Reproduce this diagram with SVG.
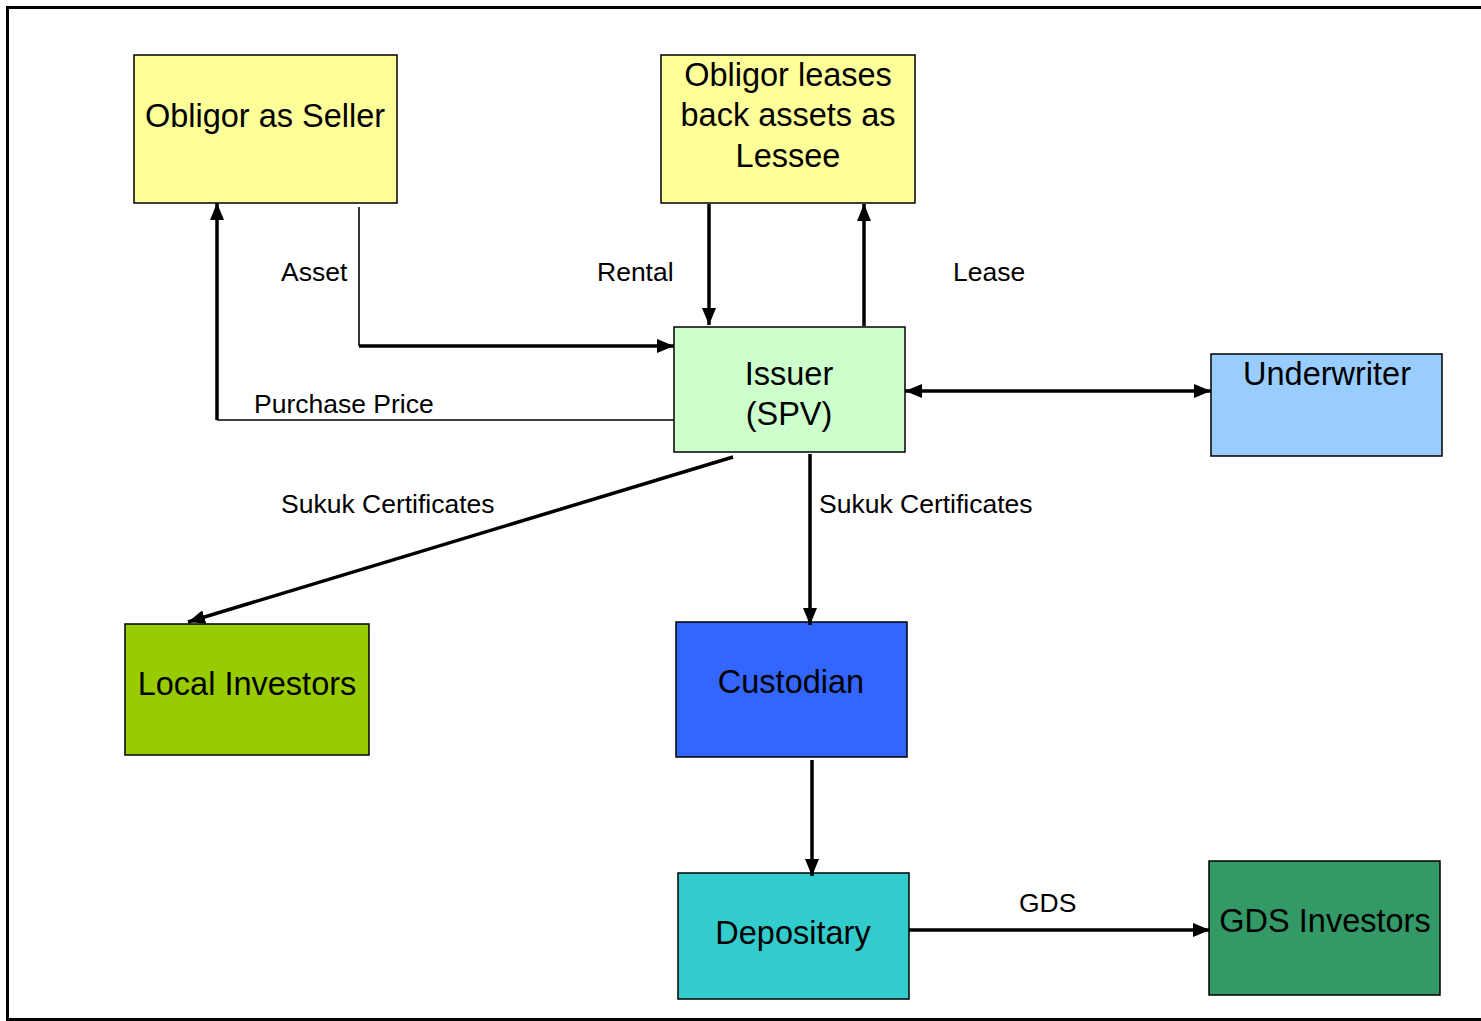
<svg xmlns="http://www.w3.org/2000/svg" width="1481" height="1021" viewBox="0 0 1481 1021">
<style>
.node rect{stroke:#000;stroke-width:1.5}
.nt{font-family:"Liberation Sans",Arial,sans-serif;font-size:32.5px;fill:#000;text-anchor:middle}
.lb{font-family:"Liberation Sans",Arial,sans-serif;font-size:26.5px;fill:#000}
.thick{stroke:#000;stroke-width:3.5;fill:none}
.thin{stroke:#000;stroke-width:1.6;fill:none}
</style>
<defs>
<marker id="ah" viewBox="0 0 17 14" refX="17" refY="7" markerWidth="17" markerHeight="14" markerUnits="userSpaceOnUse" orient="auto-start-reverse">
<path d="M0,0 L17,7 L0,14 Z" fill="#000"/>
</marker>
</defs>
<rect x="0" y="0" width="1481" height="1021" fill="#fff"/>
<rect x="7.5" y="7.5" width="1490" height="1012" fill="none" stroke="#000" stroke-width="3"/>

<g id="obligor-seller" class="node">
<rect x="134" y="55" width="263" height="148" fill="#FFFF99"/>
<text class="nt" x="265" y="127">Obligor as Seller</text>
</g>
<g id="obligor-lessee" class="node">
<rect x="661" y="55" width="254" height="148" fill="#FFFF99"/>
<text class="nt" x="788" y="86">Obligor leases</text>
<text class="nt" x="788" y="126">back assets as</text>
<text class="nt" x="788" y="167">Lessee</text>
</g>
<g id="issuer" class="node">
<rect x="674" y="327" width="231" height="125" fill="#CCFFCC"/>
<text class="nt" x="789" y="385">Issuer</text>
<text class="nt" x="789" y="425">(SPV)</text>
</g>
<g id="underwriter" class="node">
<rect x="1211" y="354" width="231" height="102" fill="#99CCFF"/>
<text class="nt" x="1327" y="385">Underwriter</text>
</g>
<g id="local-investors" class="node">
<rect x="125" y="624" width="244" height="131" fill="#99CC00"/>
<text class="nt" x="247" y="695">Local Investors</text>
</g>
<g id="custodian" class="node">
<rect x="676" y="622" width="231" height="135" fill="#3366FF"/>
<text class="nt" x="791" y="693">Custodian</text>
</g>
<g id="depositary" class="node">
<rect x="678" y="873" width="231" height="126" fill="#33CCCC"/>
<text class="nt" x="793" y="944">Depositary</text>
</g>
<g id="gds-investors" class="node">
<rect x="1209" y="861" width="231" height="134" fill="#339966"/>
<text class="nt" x="1325" y="932">GDS Investors</text>
</g>

<g id="connectors">
<path class="thin" d="M359,207 L359,346"/>
<path class="thick" d="M359,346 L674,346" marker-end="url(#ah)"/>
<path class="thin" d="M674,420 L217,420"/>
<path class="thick" d="M217,420 L217,203" marker-end="url(#ah)"/>
<path class="thick" d="M709,204 L709,325" marker-end="url(#ah)"/>
<path class="thick" d="M864,326 L864,204" marker-end="url(#ah)"/>
<path class="thick" d="M905,391 L1211,391" marker-start="url(#ah)" marker-end="url(#ah)"/>
<path class="thick" d="M733,457 L188,622" marker-end="url(#ah)"/>
<path class="thick" d="M810,454 L810,625" marker-end="url(#ah)"/>
<path class="thick" d="M812,760 L812,876" marker-end="url(#ah)"/>
<path class="thick" d="M909,930 L1210,930" marker-end="url(#ah)"/>
<text class="lb" x="281" y="281">Asset</text>
<text class="lb" x="597" y="281">Rental</text>
<text class="lb" x="953" y="281">Lease</text>
<text class="lb" x="254" y="413">Purchase Price</text>
<text class="lb" x="281" y="513">Sukuk Certificates</text>
<text class="lb" x="819" y="513">Sukuk Certificates</text>
<text class="lb" x="1019" y="912">GDS</text>
</g>
</svg>
